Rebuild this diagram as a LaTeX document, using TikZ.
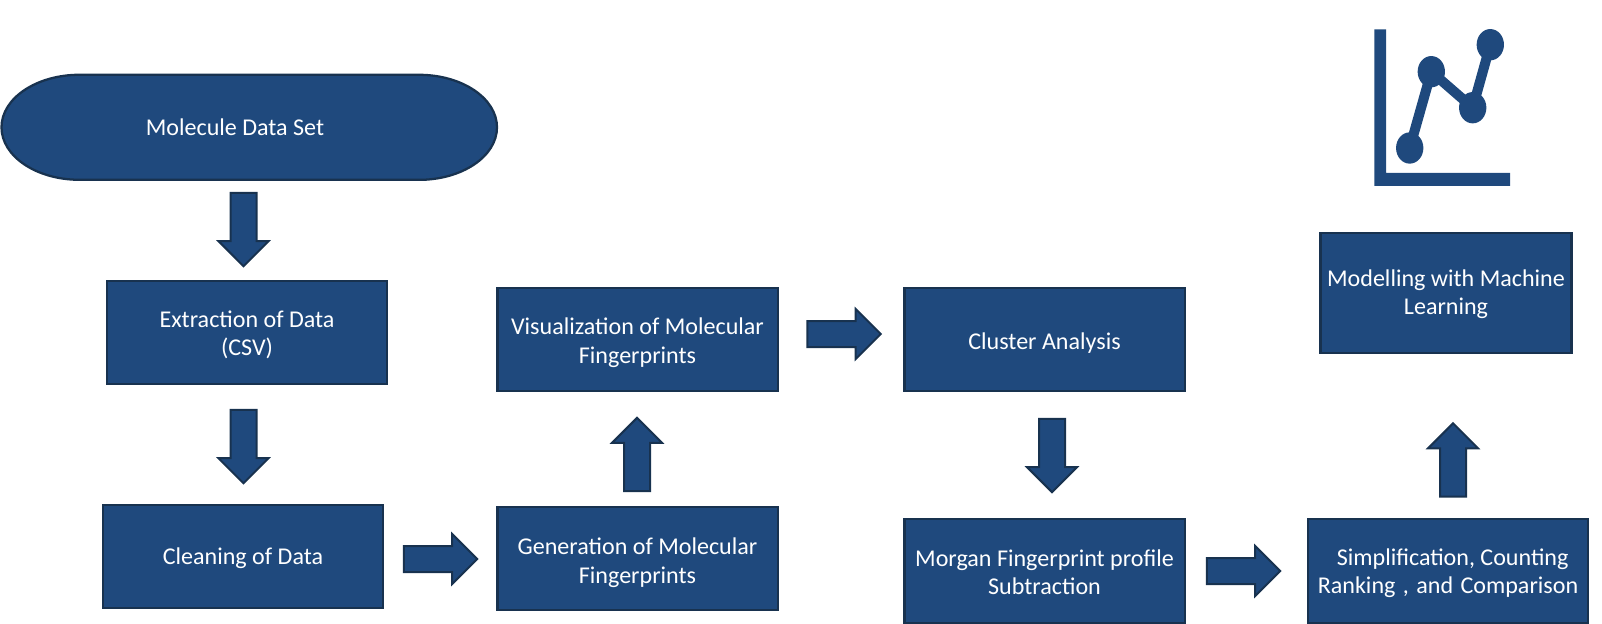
\documentclass[tikz,border=0pt]{standalone}
\usepackage{fontspec}
\setmainfont{Carlito}
\usetikzlibrary{shapes.arrows,shapes.geometric}
\definecolor{boxfill}{HTML}{1F497D}
\definecolor{boxline}{HTML}{18324F}
\newcommand{\dropby}[1]{\rule{0pt}{#1}}
\tikzset{
  x=0.75pt,y=-0.75pt,
  boxtext/.style={text=white,align=center,inner sep=0pt,font=\fontsize{18.05}{21.2}\selectfont},
  procbox/.style={boxtext,draw=boxline,fill=boxfill,line width=1.7pt,rectangle,minimum width=210.2pt,minimum height=77.6pt},
  pillshape/.style={draw=boxline,fill=boxfill,line width=1.7pt},
  blockarrow/.style={draw=boxline,fill=boxfill,line width=1.5pt,single arrow,single arrow head indent=0pt,
    single arrow head extend=9pt,inner xsep=0pt,inner ysep=9pt,minimum height=55pt,minimum width=36pt,outer sep=0pt},
  chartdot/.style={ellipse,fill=boxfill,inner sep=0pt,minimum width=20.5pt,minimum height=23.5pt},
  chartline/.style={draw=boxfill,line width=7.5pt}
}
\begin{document}
\begin{tikzpicture}
\useasboundingbox (0,0) rectangle (1602,624);
\path[pillshape] (1.5,127.3) arc[start angle=180,end angle=90,x radius=58.5pt,y radius=39.4pt]
  -- (419,74.8) arc[start angle=90,end angle=-90,x radius=58.5pt,y radius=39.4pt]
  -- (79.5,179.8) arc[start angle=270,end angle=180,x radius=58.5pt,y radius=39.4pt] -- cycle;
\node[boxtext] (pill) at (235,127) {Molecule Data Set};
\node[procbox] (extract) at (247,332.5) {\dropby{16pt}Extraction of Data\\(CSV)};
\node[procbox] (clean) at (243,556.5) {\dropby{14.5pt}Cleaning of Data};
\node[procbox] (gen) at (637.5,558.5) {\dropby{19pt}Generation of Molecular\\Fingerprints};
\node[procbox] (vis) at (637.5,339.5) {\dropby{17.5pt}Visualization of Molecular\\Fingerprints};
\node[procbox] (cluster) at (1044.5,339.5) {\dropby{17.5pt}Cluster Analysis};
\node[procbox] (morgan) at (1044.5,571) {\dropby{14.5pt}Morgan Fingerprint profile\\Subtraction};
\node[procbox] (simp) at (1448,571) {\dropby{16pt}\hspace*{7pt}Simplification, Counting\\Ranking\hspace{1.5pt} ,\hspace{1.5pt} and\hspace{1.5pt} Comparison};
\node[procbox,minimum width=188.4pt,minimum height=89.8pt] (model) at (1446,293) {\dropby{14.5pt}Modelling with Machine\\Learning};
\node[blockarrow,rotate=-90] (a1) at (243.5,223) {};
\node[blockarrow,rotate=-90] (a2) at (243.5,440) {};
\node[blockarrow] (a3) at (434,559) {};
\node[blockarrow,rotate=90] (a4) at (637,461) {};
\node[blockarrow] (a5) at (837.5,334) {};
\node[blockarrow,rotate=-90] (a6) at (1052,449) {};
\node[blockarrow] (a7) at (1237,571) {};
\node[blockarrow,rotate=90] (a8) at (1453,466.5) {};
\fill[boxfill] (1374.3,29.3) -- (1386,29.3) -- (1386,173) -- (1510,173) -- (1510,186) -- (1374.3,186) -- cycle;
\node[chartdot] (p1) at (1409.7,148) {};
\node[chartdot] (p2) at (1431.3,71.7) {};
\node[chartdot] (p3) at (1472.7,107.7) {};
\node[chartdot] (p4) at (1490.3,44.7) {};
\draw[chartline] (p1.center) -- (p2.center) -- (p3.center) -- (p4.center);
\end{tikzpicture}
\end{document}
